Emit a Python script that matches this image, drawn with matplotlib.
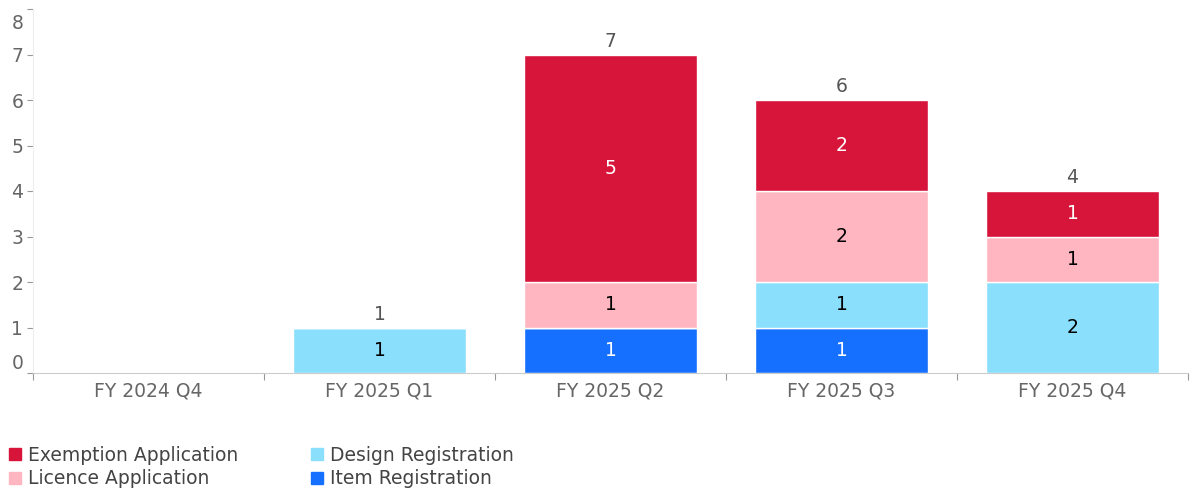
import matplotlib
matplotlib.use("Agg")
import matplotlib.pyplot as plt
from matplotlib.lines import Line2D
import numpy as np

plt.rcParams['font.family'] = ['DejaVu Sans']

categories = ["FY 2024 Q4", "FY 2025 Q1", "FY 2025 Q2", "FY 2025 Q3", "FY 2025 Q4"]
item_registration = [0, 0, 1, 1, 0]
design_registration = [0, 1, 0, 1, 2]
licence_application = [0, 0, 1, 2, 1]
exemption_application = [0, 0, 5, 2, 1]
y_ticks = [0, 1, 2, 3, 4, 5, 6, 7, 8]

series = [
    ("Item Registration", item_registration, "#1570FF", "white"),
    ("Design Registration", design_registration, "#8ADFFD", "black"),
    ("Licence Application", licence_application, "#FFB6C1", "black"),
    ("Exemption Application", exemption_application, "#D7153A", "white"),
]

FS = 13.5
TICK_C = "#666666"

fig = plt.figure(figsize=(11.92, 4.91), dpi=100)
ax = fig.add_axes([33/1192, 1-373/491, (1188-33)/1192, (373-9)/491])

x = np.arange(len(categories))
bottom = np.zeros(len(categories))
for name, vals, color, tcolor in series:
    vals = np.array(vals, dtype=float)
    ax.bar(x, vals, width=0.75, bottom=bottom, color=color,
           edgecolor="white", linewidth=1.0, label=name)
    for xi, v, b in zip(x, vals, bottom):
        if v > 0:
            ax.text(xi, b + v/2, f"{int(v)}", ha="center", va="center",
                    color=tcolor, fontsize=FS)
    bottom += vals

for xi, tot in zip(x, bottom):
    if tot > 0:
        ax.text(xi, tot + 0.08, f"{int(tot)}", ha="center", va="bottom",
                color="#555555", fontsize=FS)

ax.set_xlim(-0.5, len(categories) - 0.5)
ax.set_ylim(y_ticks[0], y_ticks[-1])
ax.set_yticks(y_ticks)
ax.set_yticklabels([str(t) for t in y_ticks[:-1]] + [""])
# top tick label drawn slightly below its tick, as in the reference
ax.annotate(str(y_ticks[-1]), xy=(0, y_ticks[-1]), xycoords=("axes fraction", "data"),
            xytext=(-7, -3.5), textcoords="offset points", ha="right", va="top",
            fontsize=FS, color=TICK_C)
ax.set_xticks(x)
ax.set_xticklabels(categories)
ax.set_xticks(np.arange(-0.5, len(categories)), minor=True)
ax.tick_params(axis="x", which="major", length=0, pad=6, labelsize=FS, labelcolor=TICK_C)
ax.tick_params(axis="x", which="minor", length=5, color="#999999", width=0.8)
ax.tick_params(axis="y", length=4, color="#999999", width=0.8, labelsize=FS,
               labelcolor=TICK_C, pad=3)
ylabs = ax.get_yticklabels()
ylabs[0].set_verticalalignment("bottom")

for s in ["top", "right"]:
    ax.spines[s].set_visible(False)
ax.spines["left"].set_color("#eeeeee")
ax.spines["bottom"].set_color("#cccccc")
ax.spines["bottom"].set_linestyle((0, (2, 1)))

handles = {name: Line2D([], [], marker="s", linestyle="none", markersize=8,
                        markerfacecolor=color, markeredgecolor=color)
           for name, vals, color, t in series}
order = ["Exemption Application", "Licence Application", "Design Registration", "Item Registration"]
fig.legend([handles[n] for n in order], order, ncol=2, loc="lower left",
           bbox_to_anchor=(0.0, -0.006), frameon=False, fontsize=FS,
           handletextpad=0.2, columnspacing=3.7, labelspacing=0.25,
           handlelength=1.0, borderpad=0.3, borderaxespad=0.0,
           labelcolor="#444444")

fig.savefig("out.png", dpi=100)
